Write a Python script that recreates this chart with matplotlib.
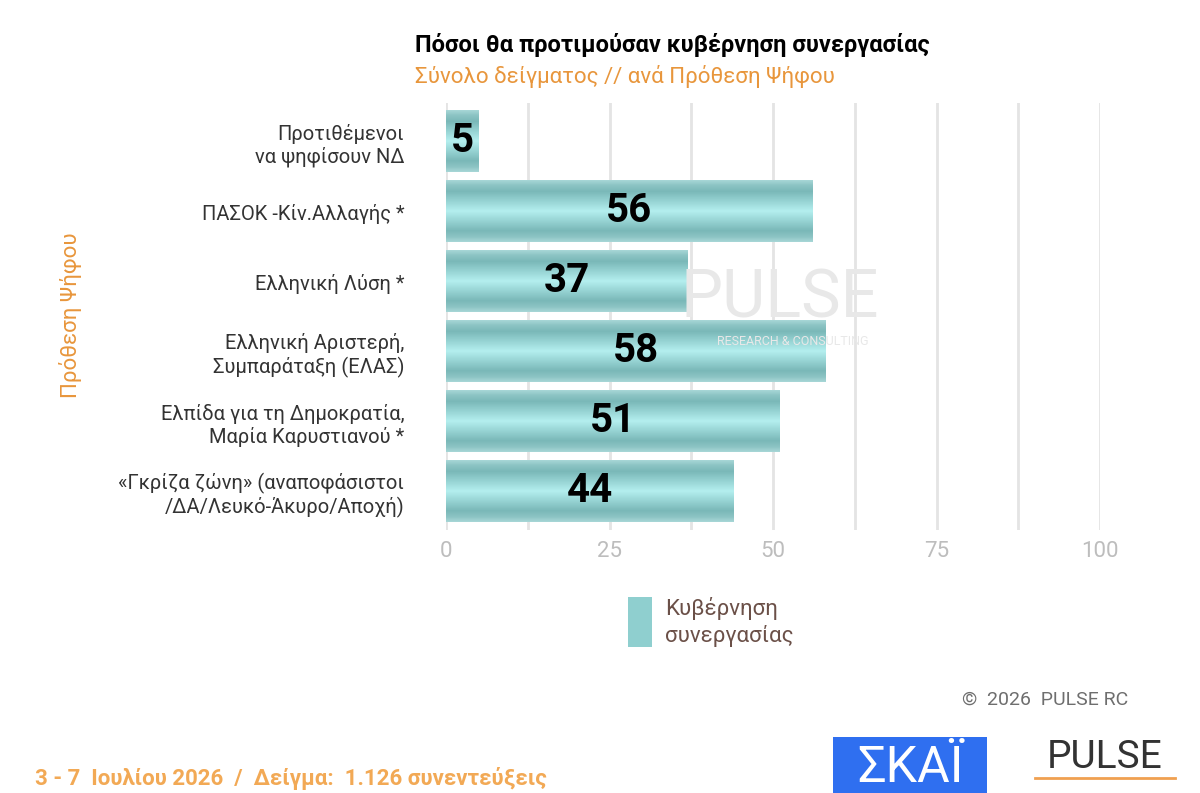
import numpy as np
import matplotlib.pyplot as plt
from matplotlib.colors import LinearSegmentedColormap
from matplotlib.patches import Rectangle

categories = ['Προτιθέμενοι\nνα ψηφίσουν ΝΔ',
              'ΠΑΣΟΚ -Κίν.Αλλαγής *',
              'Ελληνική Λύση *',
              'Ελληνική Αριστερή,\nΣυμπαράταξη (ΕΛΑΣ)',
              'Ελπίδα για τη Δημοκρατία,\nΜαρία Καρυστιανού *',
              '«Γκρίζα ζώνη» (αναποφάσιστοι\n/ΔΑ/Λευκό-Άκυρο/Αποχή)']
values = [5, 56, 37, 58, 51, 44]
xticks = [0, 25, 50, 75, 100]
series_name = 'Κυβέρνηση\nσυνεργασίας'

plt.rcParams['font.family'] = ['Roboto', 'DejaVu Sans']
orange = '#e8963c'

fig = plt.figure(figsize=(12, 7.93), dpi=100)
W, H = 1200, 793
ax = fig.add_axes([446 / W, 1 - 530 / H, (1100 - 446) / W, (530 - 103) / H])

y = np.arange(len(categories))
bars = ax.barh(y, values, height=0.88, color='none', zorder=3)

grad = LinearSegmentedColormap.from_list('teal', [
    (0.0, '#a6d6d6'), (0.08, '#8cc4c4'), (0.18, '#7ab8b8'),
    (0.5, '#b4efef'), (0.82, '#7ab8b8'), (0.92, '#8cc4c4'), (1.0, '#a6d6d6')])
g = np.linspace(0, 1, 100).reshape(-1, 1)
for b, v in zip(bars, values):
    x0, y0, w, h = b.get_x(), b.get_y(), b.get_width(), b.get_height()
    ax.imshow(g, cmap=grad, aspect='auto', extent=(x0, x0 + w, y0 + h, y0),
              zorder=3, interpolation='bilinear')
    ax.text(w / 2, y0 + h / 2, str(v), ha='center', va='center',
            fontsize=29, fontweight='bold', color='black', zorder=5)

ax.set_xlim(0, 100)
ax.set_ylim(len(categories) - 0.5 + 0.05, -0.5 - 0.05)
ax.set_xticks(np.arange(0, 101, 12.5))
ax.set_xticklabels(['0', '', '25', '', '50', '', '75', '', '100'],
                   fontsize=16, color='#bdbdbd')
ax.xaxis.grid(True, color='#e4e4e4', linewidth=2, zorder=0)
ax.set_axisbelow(True)
ax.tick_params(axis='x', length=0, pad=8)
ax.set_yticks(y)
ax.set_yticklabels(categories, fontsize=14.5, color='#333333')
ax.tick_params(axis='y', length=0, pad=30)
for s in ax.spines.values():
    s.set_visible(False)

# watermark
fig.text(780 / W, 1 - 300 / H, 'PULSE', fontsize=48, color='#e8e8e8',
         ha='center', va='center', zorder=0)
fig.text(793 / W, 1 - 342 / H, 'RESEARCH & CONSULTING', fontsize=9,
         color='#e8e8e8', ha='center', va='center')

fig.text(672 / W, 1 - 45 / H, 'Πόσοι θα προτιμούσαν κυβέρνηση συνεργασίας',
         fontsize=17, fontweight='bold', ha='center', va='center')
fig.text(625 / W, 1 - 76 / H, 'Σύνολο δείγματος // ανά Πρόθεση Ψήφου',
         fontsize=16, color=orange, ha='center', va='center')
fig.text(70 / W, 1 - 315 / H, 'Πρόθεση Ψήφου', fontsize=16, color=orange,
         rotation=90, ha='center', va='center')

# legend
fig.patches.append(Rectangle((628 / W, 1 - 647 / H), 24 / W, 50 / H,
                             transform=fig.transFigure, facecolor='#8fcfcf',
                             edgecolor='none'))
fig.text(665 / W, 1 - 622 / H, series_name, fontsize=16, color='#6b5048',
         ha='left', va='center', linespacing=1.3)

fig.text(1045 / W, 1 - 700 / H, '©  2026  PULSE RC', fontsize=14,
         color='#6e6e6e', ha='center', va='center')
fig.text(35 / W, 1 - 778 / H, '3 - 7  Ιουλίου 2026  /  Δείγμα:  1.126 συνεντεύξεις',
         fontsize=16, color='#f2a955', fontweight='bold', ha='left', va='center')

# logos
fig.patches.append(Rectangle((833 / W, 0), 154 / W, 56 / H,
                             transform=fig.transFigure, facecolor='#2f6ff0',
                             edgecolor='none'))
fig.text(910 / W, 1 - 768 / H, 'ΣΚΑΪ', fontsize=36, color='white',
         ha='center', va='center')
fig.text(1105 / W, 1 - 757 / H, 'PULSE', fontsize=28, color='#333333',
         ha='center', va='center')
fig.add_artist(plt.Line2D([1035 / W, 1175 / W], [1 - 778 / H, 1 - 778 / H],
                          color='#f0a050', linewidth=2))

fig.savefig('out.png', dpi=100, facecolor='white')
